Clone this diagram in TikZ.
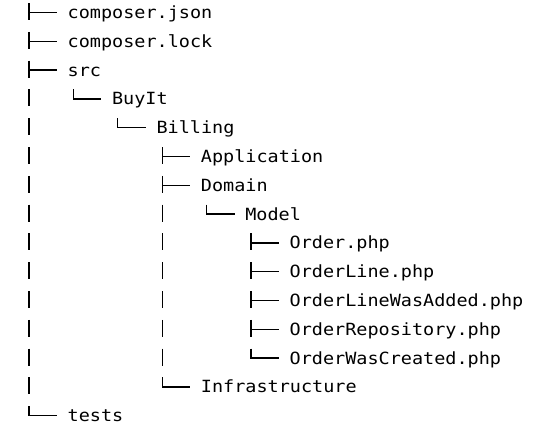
\documentclass[tikz,border=0pt]{standalone}
\usepackage{fontspec}
\newfontfamily\treefont[FakeStretch=1.1]{DejaVu Sans Mono}
\newcommand\treeX[1]{29+44.4*#1}
\newcommand\treeY[1]{18.5+28.8*#1}
\tikzset{
  treeline/.style={line width=1.3pt, line cap=butt, line join=miter},
  item/.style={anchor=base west, inner sep=0pt, font=\treefont\fontsize{16.8}{20}\selectfont}
}
% vertical bar segment of a row
\newcommand\tvline[2]{\draw[treeline] ({\treeX{#1}},{\treeY{#2}-15.5}) -- ++(0,17);}
% tee: vertical + branch
\newcommand\ttee[2]{\tvline{#1}{#2}\draw[treeline] ({\treeX{#1}},{\treeY{#2}-6}) -- ++(28,0);}
% corner
\newcommand\tcorner[2]{\draw[treeline] ({\treeX{#1}},{\treeY{#2}-15.5}) |- ++(28,9.5);}
% entry text
\newcommand\tentry[4]{\node[item] (#3) at ({67.5+44.4*#1},{\treeY{#2}}) {#4};}
\begin{document}
\begin{tikzpicture}[x=1pt,y=-1pt]
\useasboundingbox[fill=white] (0,0) rectangle (543,437);
% entries: level, row, name, text
\tentry{0}{0}{cjson}{composer.json}
\tentry{0}{1}{clock}{composer.lock}
\tentry{0}{2}{src}{src}
\tentry{1}{3}{buyit}{BuyIt}
\tentry{2}{4}{billing}{Billing}
\tentry{3}{5}{app}{Application}
\tentry{3}{6}{domain}{Domain}
\tentry{4}{7}{model}{Model}
\tentry{5}{8}{order}{Order.php}
\tentry{5}{9}{orderline}{OrderLine.php}
\tentry{5}{10}{olwa}{OrderLineWasAdded.php}
\tentry{5}{11}{orepo}{OrderRepository.php}
\tentry{5}{12}{owc}{OrderWasCreated.php}
\tentry{3}{13}{infra}{Infrastructure}
\tentry{0}{14}{tests}{tests}
% tree glyphs
\ttee{0}{0}
\ttee{0}{1}
\ttee{0}{2}
\tvline{0}{3}\tcorner{1}{3}
\tvline{0}{4}\tcorner{2}{4}
\tvline{0}{5}\ttee{3}{5}
\tvline{0}{6}\ttee{3}{6}
\tvline{0}{7}\tvline{3}{7}\tcorner{4}{7}
\tvline{0}{8}\tvline{3}{8}\ttee{5}{8}
\tvline{0}{9}\tvline{3}{9}\ttee{5}{9}
\tvline{0}{10}\tvline{3}{10}\ttee{5}{10}
\tvline{0}{11}\tvline{3}{11}\ttee{5}{11}
\tvline{0}{12}\tvline{3}{12}\tcorner{5}{12}
\tvline{0}{13}\tcorner{3}{13}
\tcorner{0}{14}
\end{tikzpicture}
\end{document}
